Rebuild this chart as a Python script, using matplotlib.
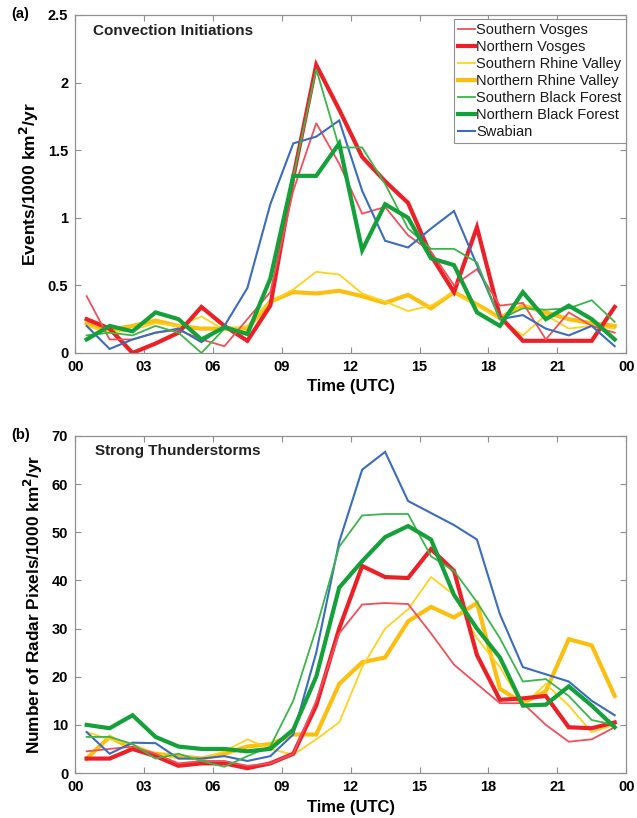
import matplotlib
matplotlib.use("Agg")
import matplotlib.pyplot as plt
import numpy as np

hours = [h + 0.5 for h in range(24)]

names = ["Southern Vosges", "Northern Vosges", "Southern Rhine Valley",
         "Northern Rhine Valley", "Southern Black Forest", "Northern Black Forest",
         "Swabian"]
colors = ["#f0505a", "#ec2027", "#ffd21f", "#fdbf0f", "#3cb54a", "#14a13a", "#3a6cc0"]
widths = [1.3, 3.0, 1.3, 3.0, 1.3, 3.0, 1.5]

# Panel (a): Convection initiations
ci_sv = [0.42, 0.10, 0.10, 0.15, 0.17, 0.10, 0.05, 0.25, 0.45, 1.20, 1.70, 1.40,
         1.03, 1.08, 0.87, 0.75, 0.50, 0.62, 0.35, 0.37, 0.10, 0.30, 0.20, 0.15]
ci_nv = [0.25, 0.18, 0.00, 0.07, 0.15, 0.34, 0.20, 0.09, 0.35, 1.30, 2.13, 1.80,
         1.45, 1.27, 1.11, 0.72, 0.45, 0.93, 0.27, 0.09, 0.09, 0.09, 0.09, 0.34]
ci_srv = [0.20, 0.15, 0.17, 0.22, 0.20, 0.27, 0.17, 0.20, 0.38, 0.47, 0.60, 0.58,
          0.44, 0.38, 0.31, 0.35, 0.45, 0.35, 0.25, 0.13, 0.28, 0.18, 0.20, 0.18]
ci_nrv = [0.22, 0.17, 0.20, 0.24, 0.20, 0.18, 0.18, 0.18, 0.38, 0.45, 0.44, 0.46,
          0.42, 0.37, 0.43, 0.33, 0.45, 0.36, 0.26, 0.35, 0.30, 0.25, 0.22, 0.20]
ci_sbf = [0.13, 0.15, 0.13, 0.20, 0.15, 0.00, 0.18, 0.15, 0.55, 1.30, 2.10, 1.52,
          1.52, 1.25, 0.92, 0.77, 0.77, 0.67, 0.25, 0.33, 0.32, 0.33, 0.39, 0.23]
ci_nbf = [0.10, 0.20, 0.16, 0.30, 0.25, 0.10, 0.19, 0.14, 0.55, 1.31, 1.31, 1.55,
          0.76, 1.10, 1.00, 0.70, 0.65, 0.30, 0.20, 0.45, 0.25, 0.35, 0.25, 0.10]
ci_sw = [0.20, 0.03, 0.10, 0.15, 0.18, 0.08, 0.20, 0.48, 1.10, 1.55, 1.60, 1.72,
         1.20, 0.83, 0.78, 0.92, 1.05, 0.65, 0.25, 0.28, 0.18, 0.13, 0.20, 0.05]

# Panel (b): Strong thunderstorms
ts_sv = [4.5, 5.0, 5.5, 4.0, 2.0, 2.5, 2.5, 1.5, 2.0, 4.0, 15.0, 29.0,
         35.0, 35.3, 35.1, 29.0, 22.5, 18.5, 14.5, 14.5, 10.0, 6.5, 7.0, 9.5]
ts_nv = [3.0, 3.0, 5.0, 3.5, 1.5, 2.0, 2.0, 1.0, 2.0, 4.0, 14.0, 30.0,
         43.0, 40.7, 40.5, 46.5, 42.0, 24.5, 15.2, 15.5, 16.0, 9.5, 9.3, 10.5]
ts_srv = [8.5, 7.0, 6.0, 4.0, 3.0, 3.0, 4.5, 7.0, 5.0, 3.8, 7.0, 10.5,
          22.0, 30.0, 34.0, 40.7, 37.0, 28.0, 22.0, 14.0, 18.5, 14.0, 8.5, 10.0]
ts_nrv = [3.0, 7.5, 5.0, 4.0, 3.5, 3.0, 4.0, 5.5, 6.0, 8.0, 8.0, 18.5,
          23.0, 24.0, 31.5, 34.5, 32.3, 35.3, 17.5, 14.5, 17.0, 27.8, 26.5, 16.0]
ts_sbf = [7.5, 7.5, 6.0, 3.0, 4.0, 2.5, 1.3, 3.5, 5.5, 15.0, 30.0, 47.0,
          53.5, 53.8, 53.8, 45.0, 42.0, 35.5, 28.0, 19.0, 19.5, 16.0, 11.0, 10.0]
ts_nbf = [10.0, 9.3, 12.0, 7.5, 5.5, 5.0, 5.0, 4.5, 5.0, 9.0, 20.0, 38.5,
          44.0, 49.0, 51.3, 48.5, 37.0, 30.0, 24.0, 14.0, 14.2, 18.0, 14.0, 9.5]
ts_sw = [8.5, 4.0, 6.3, 6.2, 3.0, 3.0, 3.5, 2.5, 3.5, 8.0, 25.0, 48.0,
         63.0, 66.7, 56.5, 54.0, 51.5, 48.5, 33.0, 22.0, 20.5, 19.0, 15.0, 12.0]

xticks = [0, 3, 6, 9, 12, 15, 18, 21, 24]
xticklabels = ["00", "03", "06", "09", "12", "15", "18", "21", "00"]
yticks_a = [0, 0.5, 1, 1.5, 2, 2.5]
yticklabels_a = ["0", "0.5", "1", "1.5", "2", "2.5"]
yticks_b = [0, 10, 20, 30, 40, 50, 60, 70]

plt.rcParams['font.family'] = ['Liberation Sans', 'DejaVu Sans']

fig = plt.figure(figsize=(6.37, 8.18), dpi=100)
ax_a = fig.add_axes([0.118, 0.5685, 0.865, 0.4132])
ax_b = fig.add_axes([0.118, 0.055, 0.865, 0.412])

series_a = [ci_sv, ci_nv, ci_srv, ci_nrv, ci_sbf, ci_nbf, ci_sw]
series_b = [ts_sv, ts_nv, ts_srv, ts_nrv, ts_sbf, ts_nbf, ts_sw]

order = [3, 2, 1, 0, 6, 4, 5]
for i in order:
    ax_a.plot(hours, series_a[i], color=colors[i], lw=widths[i], label=names[i],
              solid_joinstyle='miter')
    ax_b.plot(hours, series_b[i], color=colors[i], lw=widths[i], label=names[i],
              solid_joinstyle='miter')

for ax in (ax_a, ax_b):
    ax.set_xlim(0, 24)
    ax.set_xticks(xticks)
    ax.set_xticklabels(xticklabels, fontweight='bold', fontsize=10.5)
    ax.tick_params(direction='in', top=True, right=True, length=4, color='#909090',
                   width=0.8, pad=5)
    for s in ax.spines.values():
        s.set_color('#909090')
        s.set_linewidth(0.9)
    ax.set_xlabel("Time (UTC)", fontweight='bold', fontsize=12, labelpad=4)

ax_a.set_ylim(0, 2.5)
ax_a.set_yticks(yticks_a)
ax_a.set_yticklabels(yticklabels_a, fontweight='bold', fontsize=10.5)
ax_a.set_ylabel("Events/1000 km$^\\mathbf{2}$/yr", fontweight='bold', fontsize=12.6, labelpad=5)

ax_b.set_ylim(0, 70)
ax_b.set_yticks(yticks_b)
ax_b.set_yticklabels([str(v) for v in yticks_b], fontweight='bold', fontsize=10.5)
ax_b.set_ylabel("Number of Radar Pixels/1000 km$^\\mathbf{2}$/yr", fontweight='bold',
                fontsize=12.4, labelpad=5)

ax_a.text(0.033, 0.953, "Convection Initiations", transform=ax_a.transAxes,
          fontsize=11, fontweight='bold', color='#222222', va='center', ha='left')
ax_b.text(0.036, 0.955, "Strong Thunderstorms", transform=ax_b.transAxes,
          fontsize=11, fontweight='bold', color='#222222', va='center', ha='left')

fig.text(0.018, 0.983, "(a)", fontsize=10.5, fontweight='bold', va='center')
fig.text(0.018, 0.468, "(b)", fontsize=10.5, fontweight='bold', va='center')

handles, labels = ax_a.get_legend_handles_labels()
hmap = dict(zip(labels, handles))
leg = ax_a.legend([hmap[n] for n in names], names, loc='upper right',
                  bbox_to_anchor=(1.0, 0.988), fontsize=10.5, handlelength=1.15,
                  handletextpad=0.12, labelspacing=0.2, borderpad=0.3,
                  borderaxespad=0.0, fancybox=False, framealpha=1,
                  edgecolor='#909090')
leg.get_frame().set_linewidth(0.8)
for t in leg.get_texts():
    t.set_color('#1a1a1a')

fig.savefig("out.png", dpi=100)
